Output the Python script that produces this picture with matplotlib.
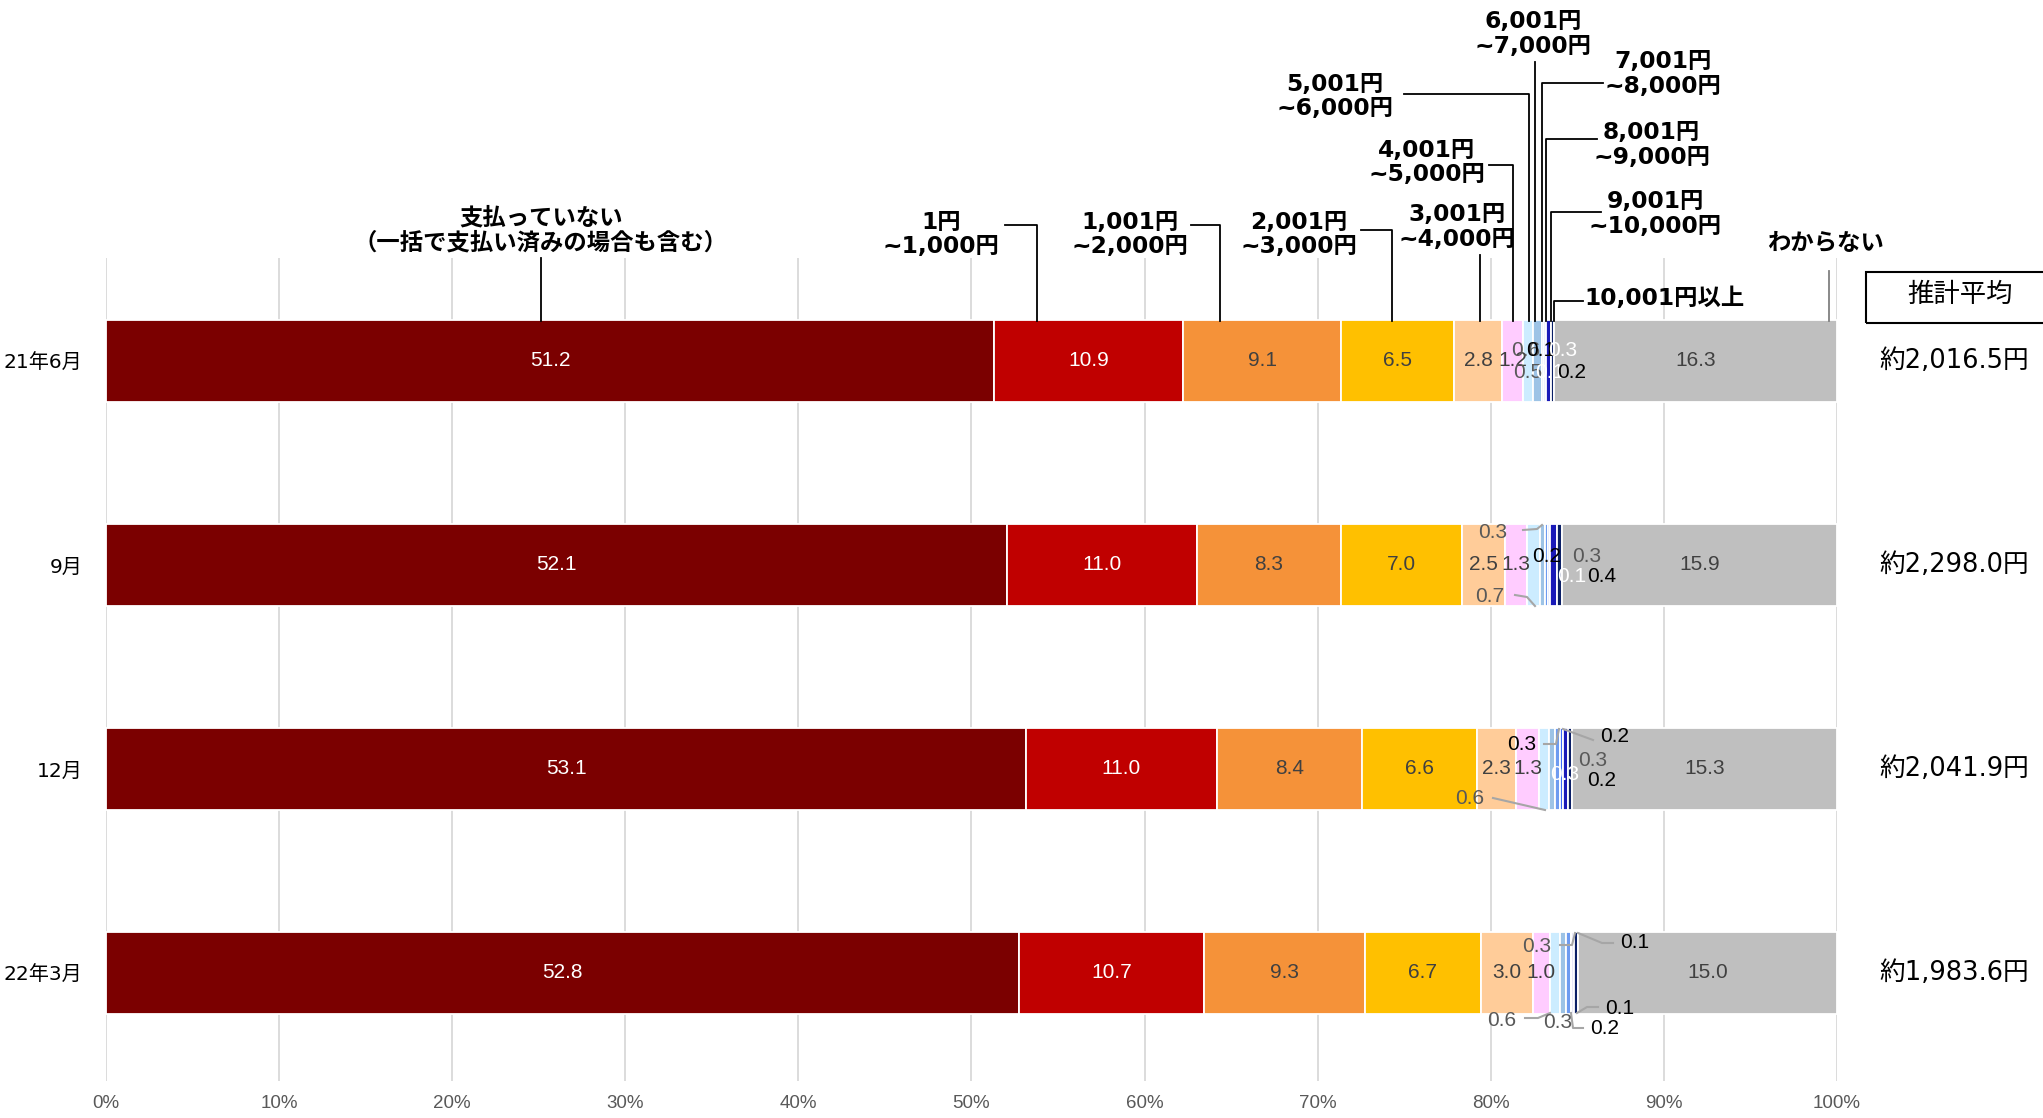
import matplotlib
matplotlib.use("Agg")
import matplotlib.pyplot as plt
from matplotlib import font_manager
from matplotlib.patches import Rectangle
import numpy as np

# 期間
rows = ["21年6月", "9月", "12月", "22年3月"]

# 支払額の区分
categories = [
    "支払っていない\n（一括で支払い済みの場合も含む）",
    "1円\n~1,000円", "1,001円\n~2,000円", "2,001円\n~3,000円",
    "3,001円\n~4,000円", "4,001円\n~5,000円", "5,001円\n~6,000円",
    "6,001円\n~7,000円", "7,001円\n~8,000円", "8,001円\n~9,000円",
    "9,001円\n~10,000円", "10,001円以上", "わからない",
]

# 各期間の構成比（%）
jun21 = [51.2, 10.9, 9.1, 6.5, 2.8, 1.2, 0.6, 0.5, 0.1, 0.1, 0.3, 0.2, 16.3]
sep21 = [52.1, 11.0, 8.3, 7.0, 2.5, 1.3, 0.7, 0.3, 0.2, 0.1, 0.4, 0.3, 15.9]
dec21 = [53.1, 11.0, 8.4, 6.6, 2.3, 1.3, 0.6, 0.3, 0.3, 0.2, 0.3, 0.2, 15.3]
mar22 = [52.8, 10.7, 9.3, 6.7, 3.0, 1.0, 0.6, 0.3, 0.3, 0.1, 0.1, 0.2, 15.0]

# 推計平均
averages = ["約2,016.5円", "約2,298.0円", "約2,041.9円", "約1,983.6円"]

colors = ["#7B0000", "#C00000", "#F59239", "#FFC000", "#FFCC99", "#FFCCFF",
          "#CCECFF", "#9DC3E6", "#6E9BF0", "#3D6BF5", "#1A1AB8", "#0A1F66",
          "#BFBFBF"]

W, H = 2043, 1118
X0, X1 = 106, 1837      # 0% / 100% のピクセル位置
Y0, ROW = 361, 204      # 1本目の中心と間隔

def xd(p):
    return (p - X0) / (X1 - X0) * 100

def yd(p):
    return (p - Y0) / ROW

names = {f.name for f in font_manager.fontManager.ttflist}
narrow = "Liberation Sans Narrow" if "Liberation Sans Narrow" in names else "Liberation Sans"
jp = ["Noto Sans CJK JP", "DejaVu Sans"]
jp_num = ["DejaVu Sans", "Noto Sans CJK JP"]
DARK = "#404040"
NUM_FS = 15

fig = plt.figure(figsize=(W / 100, H / 100), dpi=100)
ax = fig.add_axes([X0 / W, 1 - 1081 / H, (X1 - X0) / W, (1081 - 258) / H])

data = np.array([jun21, sep21, dec21, mar22])
share = data / data.sum(axis=1, keepdims=True) * 100
ypos = np.arange(len(rows))
left = np.zeros(len(rows))
for j in range(len(categories)):
    ax.barh(ypos, share[:, j], left=left, height=0.4, color=colors[j],
            edgecolor="white", linewidth=1.3, zorder=3)
    # 大きい区分は中央にラベル
    if j < 6 or j == 12:
        for i in ypos:
            c = "white" if j < 2 else DARK
            ax.text(left[i] + share[i, j] / 2, i, f"{data[i, j]:.1f}", ha="center",
                    va="center", color=c, fontsize=NUM_FS, family="Liberation Sans", zorder=5)
    left += share[:, j]

# 小さい区分（5,001円~10,001円以上）のラベル位置：(x, y, 色, 引出線)
G = "#595959"
small_pos = [
    [(1526, 351, G, None), (1528, 372, G, None), (1541, 351, "black", None),
     (1550, 372, "white", None), (1563, 351, "white", None), (1572, 372, "black", None)],
    [(1490, 597, G, [(1515, 595), (1527, 597), (1535, 606)]),
     (1493, 533, G, [(1523, 530), (1537, 529), (1542, 525)]),
     (1547, 557, "black", None), (1572, 576, "white", None),
     (1602, 576, "black", None), (1587, 557, G, None)],
    [(1470, 799, G, [(1493, 798), (1545, 810)]),
     (1522, 744, "black", [(1544, 744), (1556, 744), (1559, 729)]),
     (1565, 775, "white", None),
     (1615, 737, "black", [(1593, 740), (1563, 729)]),
     (1593, 761, G, None), (1602, 780, "black", None)],
    [(1502, 1021, G, [(1525, 1018), (1538, 1018), (1550, 1013)]),
     (1537, 947, G, [(1560, 945), (1572, 945), (1575, 933)]),
     (1558, 1023, G, None),
     (1635, 943, "black", [(1613, 943), (1602, 943), (1578, 933)]),
     (1620, 1008, "black", [(1598, 1007), (1587, 1007), (1577, 1013)]),
     (1605, 1029, "black", [(1583, 1028), (1573, 1028), (1571, 1013)])],
]
for i, row in enumerate(small_pos):
    for k, (px, py, c, lead) in enumerate(row):
        ax.text(xd(px), yd(py), f"{data[i, 6 + k]:.1f}", ha="center", va="center",
                color=c, fontsize=NUM_FS, family="Liberation Sans", zorder=6, clip_on=False)
        if lead:
            ax.plot([xd(p[0]) for p in lead], [yd(p[1]) for p in lead], color="#A6A6A6",
                    lw=1.5, zorder=4, clip_on=False)

# 区分名と引出線
top = 320.5
cat_pos = [
    (540.7, 230.5, "center", [(540.7, 258), (540.7, top)]),
    (940.8, 234.5, "center", [(1004.6, 225.4), (1037.2, 225.4), (1037.2, top)]),
    (1129.7, 234.5, "center", [(1191, 225.4), (1219.6, 225.4), (1219.6, top)]),
    (1299, 234.5, "center", [(1361, 230), (1391.7, 230), (1391.7, top)]),
    (1457, 227, "center", [(1480, 255), (1480, top)]),
    (1426.7, 162.5, "center", [(1489, 165), (1512.7, 165), (1512.7, top)]),
    (1335, 96.5, "center", [(1404, 94), (1528.7, 94), (1528.7, top)]),
    (1533, 34, "center", [(1535, 62), (1535, top)]),
    (1662.7, 74, "center", [(1602.7, 83), (1541.7, 83), (1541.7, top)]),
    (1651.7, 145, "center", [(1596.7, 139), (1545.7, 139), (1545.7, top)]),
    (1655, 214, "center", [(1600.7, 212), (1550.7, 212), (1550.7, top)]),
    (1584, 298, "left", [(1582.7, 301), (1554, 301), (1554, top)]),
    (1825.6, 243.6, "center", [(1829, 271), (1829, top)]),
]
for name, (px, py, ha, lead) in zip(categories, cat_pos):
    ax.text(xd(px), yd(py), name, ha=ha, va="center", fontsize=16.8, fontweight="bold",
            family=jp_num, linespacing=1.1, clip_on=False, zorder=6)
    lc = "#808080" if name == "わからない" else "black"
    ax.plot([xd(p[0]) for p in lead], [yd(p[1]) for p in lead], color=lc, lw=1.3,
            clip_on=False, zorder=4)

# 推計平均
fig.add_artist(Rectangle((1866 / W, 1 - 323 / H), 300 / W, 51 / H, fill=False,
                         ec="black", lw=1.5, transform=fig.transFigure))
fig.text(1960 / W, 1 - 294 / H, "推計平均", ha="center", va="center", fontsize=19, family=jp)
for i, a in enumerate(averages):
    ax.text(xd(1879), i, a, ha="left", va="center", fontsize=18.5, family=jp_num,
            clip_on=False)

ax.set_xlim(0, 100)
ax.set_ylim(yd(1081), yd(258))
ax.set_xticks(np.arange(0, 101, 10))
ax.set_xticklabels([f"{t}%" for t in range(0, 101, 10)], family=narrow, fontsize=13.5,
                   color="#595959")
ax.set_yticks(ypos)
ax.set_yticklabels(rows, family=jp_num, fontsize=14.5)
ax.tick_params(length=0)
ax.tick_params(axis="x", pad=10)
ax.tick_params(axis="y", pad=17)
ax.grid(axis="x", color="#D9D9D9", lw=1.3, zorder=0)
for s in ax.spines.values():
    s.set_visible(False)

plt.savefig("out.png", dpi=100)
